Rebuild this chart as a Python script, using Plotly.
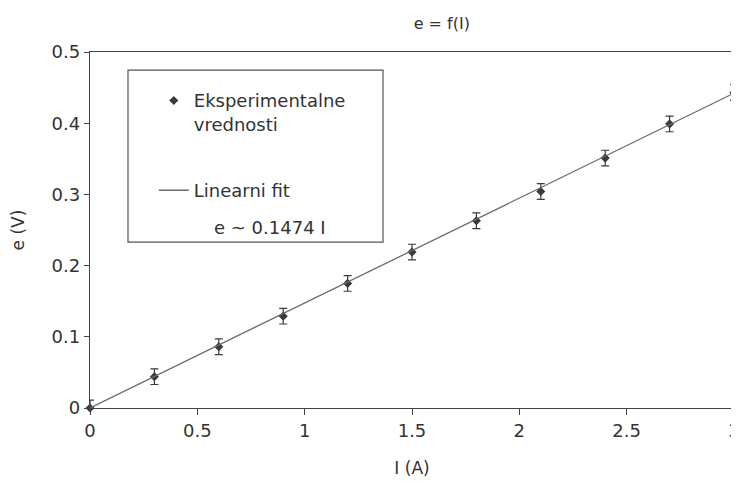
import plotly.graph_objects as go

current_A = [0, 0.3, 0.6, 0.9, 1.2, 1.5, 1.8, 2.1, 2.4, 2.7, 3.0]
emf_V = [0.0, 0.044, 0.086, 0.129, 0.175, 0.219, 0.263, 0.304, 0.351, 0.399, 0.443]
emf_err = [0.011] * len(current_A)
fit_slope = 0.1474
fit_x = [0, 3.0]
fit_y = [fit_slope * v for v in fit_x]

GRAY = "#444444"
FONT = "DejaVu Sans, Liberation Sans, Arial, sans-serif"

fig = go.Figure()
fig.add_trace(go.Scatter(
    x=current_A, y=emf_V, mode="markers",
    name="Eksperimentalne<br>vrednosti",
    marker=dict(symbol="diamond", size=7, color="#3a3a3a"),
    error_y=dict(type="data", array=emf_err, visible=True, color="#3a3a3a", thickness=1.2, width=4),
    legendgroup="a", cliponaxis=False,
))
fig.add_trace(go.Scatter(
    x=fit_x, y=fit_y, mode="lines", name="Linearni fit",
    line=dict(color="#6a6a6a", width=1.3),
    legendgroup="b",
))

fig.add_shape(type="rect", xref="paper", yref="paper",
              x0=0.059, x1=0.455, y0=0.466, y1=0.949,
              line=dict(color="#555555", width=1.2), fillcolor="rgba(0,0,0,0)", layer="above")

fig.add_annotation(text="e ~ 0.1474 I", xref="paper", yref="paper",
                   x=0.189, y=0.506, xanchor="left", yanchor="middle",
                   showarrow=False, font=dict(size=18, color="#333333", family=FONT))

fig.update_layout(
    width=739, height=484,
    margin=dict(l=82, r=13, t=44, b=84, autoexpand=False),
    paper_bgcolor="white", plot_bgcolor="white",
    font=dict(family=FONT, color="#333333", size=18),
    title=dict(text="e = f(I)", x=0.587, xanchor="center", y=0.98, yanchor="top",
               font=dict(size=16, color="#333333")),
    showlegend=True,
    legend=dict(x=0.099, y=0.915, xanchor="left", yanchor="top", valign="top",
                bgcolor="rgba(0,0,0,0)", borderwidth=0,
                font=dict(size=18, color="#333333"),
                tracegroupgap=40, itemwidth=30),
    xaxis=dict(range=[0, 3], dtick=0.5, showgrid=False, zeroline=False, automargin=False,
               showline=True, linecolor=GRAY, linewidth=1.3, mirror=True,
               ticks="outside", ticklen=6, tickcolor=GRAY,
               tickfont=dict(size=18),
               title=dict(text="I (A)", font=dict(size=17), standoff=22)),
    yaxis=dict(range=[0, 0.5], dtick=0.1, showgrid=False, zeroline=False, automargin=False,
               showline=True, linecolor=GRAY, linewidth=1.3, mirror=True,
               ticks="outside", ticklen=5, tickcolor=GRAY,
               tickfont=dict(size=18),
               title=dict(text="e (V)", font=dict(size=17), standoff=28)),
)

fig.write_html("out.html")
